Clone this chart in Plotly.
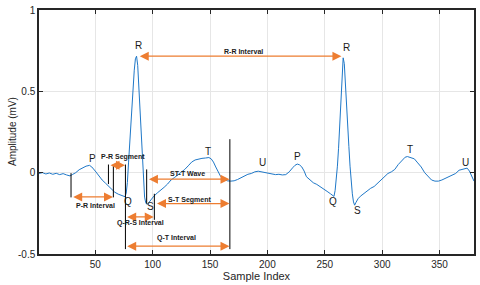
import plotly.graph_objects as go

# ---- data ----
sample_idx = [1, 4, 7, 10, 13, 16, 19, 22, 25, 28, 30, 33, 36, 39, 42, 45, 47, 50, 53, 56,
              59, 61, 64, 67, 70, 73, 75, 76, 77, 78, 79, 80, 81, 82, 83, 84, 85, 86, 87, 88,
              89, 90, 91, 92, 93, 94, 95, 96, 98, 101, 104, 107, 110, 113, 116, 119, 122, 125,
              128, 131, 134, 137, 140, 143, 146, 149, 151, 153, 155, 157, 159, 161, 163, 165,
              168, 171, 174, 177, 180, 183, 186, 189, 192, 195, 198, 201, 204, 207, 210, 213,
              216, 219, 222, 224, 226, 228, 230, 232, 234, 237, 240, 243, 246, 249, 252, 255,
              257, 258, 259, 260, 261, 262, 263, 264, 265, 266, 267, 268, 269, 270, 271, 272,
              273, 274, 275, 276, 277, 279, 281, 284, 287, 290, 293, 296, 299, 302, 305, 308,
              311, 314, 317, 320, 322, 325, 328, 331, 334, 337, 340, 343, 346, 349, 352, 355,
              358, 361, 364, 367, 370, 372, 374, 376, 378, 380]
amplitude_mv = [-0.005, 0.0, -0.008, -0.002, -0.01, -0.004, -0.012, -0.006, -0.014, -0.02,
                -0.012, 0.0, 0.018, 0.03, 0.04, 0.045, 0.035, 0.01, -0.02, -0.045,
                -0.065, -0.08, -0.1, -0.12, -0.132, -0.138, -0.145, -0.148, -0.125, -0.06,
                0.06, 0.19, 0.31, 0.42, 0.53, 0.63, 0.7, 0.716, 0.66, 0.53,
                0.40, 0.25, 0.09, -0.07, -0.15, -0.185, -0.195, -0.19, -0.17, -0.145,
                -0.125, -0.11, -0.09, -0.07, -0.045, -0.03, -0.015, 0.0,
                0.02, 0.042, 0.065, 0.078, 0.085, 0.088, 0.09, 0.093, 0.085, 0.065,
                0.035, 0.01, -0.02, -0.035, -0.045, -0.05,
                -0.052, -0.05, -0.042, -0.03, -0.018, -0.01, -0.005, 0.005, 0.009, 0.004,
                0.0, -0.006, -0.009, -0.012, -0.01, -0.014,
                -0.012, 0.005, 0.03, 0.045, 0.053, 0.048, 0.035, 0.01, -0.025, -0.045,
                -0.062, -0.072, -0.085, -0.1, -0.115, -0.13,
                -0.14, -0.146, -0.11, -0.045, 0.04, 0.15, 0.3, 0.46, 0.61, 0.706,
                0.67, 0.56, 0.43, 0.29, 0.16, 0.04,
                -0.06, -0.13, -0.18, -0.2, -0.185, -0.16, -0.145, -0.128, -0.112, -0.096,
                -0.085, -0.065, -0.045, -0.02, -0.005, 0.005,
                0.02, 0.05, 0.075, 0.095, 0.099, 0.094, 0.085, 0.06, 0.035, 0.0,
                -0.025, -0.045, -0.052, -0.052, -0.045, -0.035,
                -0.025, -0.012, -0.005, 0.015, 0.022, 0.025, 0.028, 0.01, -0.025, -0.052]

x_ticks = [50, 100, 150, 200, 250, 300, 350]
y_ticks = [-0.5, 0, 0.5, 1]
y_tick_text = ["-0.5", "0", "0.5", "1"]

wave_names = ["P", "R", "Q", "S", "T", "U", "P", "R", "Q", "S", "T", "U"]
wave_x = [47.6, 88.0, 78.9, 98.0, 147.9, 195.5, 226.6, 269.0, 257.2, 278.3, 324.2, 372.5]
wave_y = [0.09, 0.78, -0.175, -0.21, 0.128, 0.06, 0.098, 0.768, -0.178, -0.23, 0.145, 0.065]

# interval arrows: name, x0, x1, y, label x, label y
interval_names = ["R-R Interval", "P-R Interval", "P-R Segment", "Q-R-S Interval",
                  "ST-T Wave", "S-T Segment", "Q-T Interval"]
interval_x0 = [87.5, 29.5, 62.0, 76.5, 95.5, 102.5, 76.5]
interval_x1 = [264.5, 65.5, 76.0, 101.0, 167.0, 167.0, 167.0]
interval_y = [0.716, -0.149, 0.045, -0.272, -0.04, -0.19, -0.452]
label_x = [178.9, 49.8, 74.0, 89.5, 130.6, 132.0, 120.5]
label_y = [0.744, -0.20, 0.094, -0.31, -0.005, -0.166, -0.403]

# black marker lines: x, y from, y to
marker_x = [28.9, 61.5, 65.8, 76.3, 94.8, 101.5, 167.3]
marker_y0 = [-0.003, 0.05, 0.05, 0.05, 0.02, -0.13, 0.206]
marker_y1 = [-0.152, -0.07, -0.152, -0.47, -0.19, -0.29, -0.47]

ORANGE = "#ED7D31"
AXC = "#262626"
FONT = "Liberation Sans"

fig = go.Figure()
fig.add_trace(go.Scatter(x=sample_idx, y=amplitude_mv, mode="lines",
                         line=dict(color="#1F78C8", width=1), showlegend=False,
                         hoverinfo="skip"))

for mx, m0, m1 in zip(marker_x, marker_y0, marker_y1):
    fig.add_shape(type="line", x0=mx, x1=mx, y0=m0, y1=m1, xref="x", yref="y",
                  line=dict(color="black", width=1))

for name, a, b, yy, lx, ly in zip(interval_names, interval_x0, interval_x1, interval_y,
                                  label_x, label_y):
    fig.add_annotation(x=b, y=yy, ax=a, ay=yy, xref="x", yref="y", axref="x", ayref="y",
                       text="", showarrow=True, arrowhead=2, arrowside="end+start",
                       arrowsize=1.5, arrowwidth=1.2, arrowcolor=ORANGE, standoff=0,
                       startstandoff=0)
    fig.add_annotation(x=lx, y=ly, xref="x", yref="y", text="<b>%s</b>" % name,
                       showarrow=False, font=dict(family=FONT, size=7, color="#1a1a1a"))

for n, wx, wy in zip(wave_names, wave_x, wave_y):
    fig.add_annotation(x=wx, y=wy, xref="x", yref="y", text=n, showarrow=False,
                       font=dict(family=FONT, size=10, color="#1a1a1a"))

# y-axis title placed like the reference
fig.add_annotation(x=-0.062, y=0.5, xref="paper", yref="paper", text="Amplitude (mV)",
                   textangle=-90, showarrow=False, xanchor="center", yanchor="middle",
                   font=dict(family=FONT, size=10, color=AXC))

axis_common = dict(showline=True, linecolor=AXC, linewidth=1.5, mirror="ticks",
                   ticks="inside", ticklen=4, tickcolor=AXC, showgrid=True,
                   gridcolor="#E6E6E6", gridwidth=1, zeroline=False,
                   tickfont=dict(family=FONT, size=10, color=AXC))
fig.update_xaxes(range=[1, 380], tickvals=x_ticks,
                 title=dict(text="Sample Index", font=dict(family=FONT, size=11, color=AXC),
                            standoff=4), **axis_common)
fig.update_yaxes(range=[-0.5, 1], tickvals=y_ticks, ticktext=y_tick_text, **axis_common)
fig.update_layout(width=480, height=285, margin=dict(l=39, r=6, t=4, b=30),
                  plot_bgcolor="white", paper_bgcolor="white")
fig.write_html("out.html", config={"displayModeBar": False},
               post_script="document.body.style.margin='0';"
                           "document.body.style.overflow='hidden';")
